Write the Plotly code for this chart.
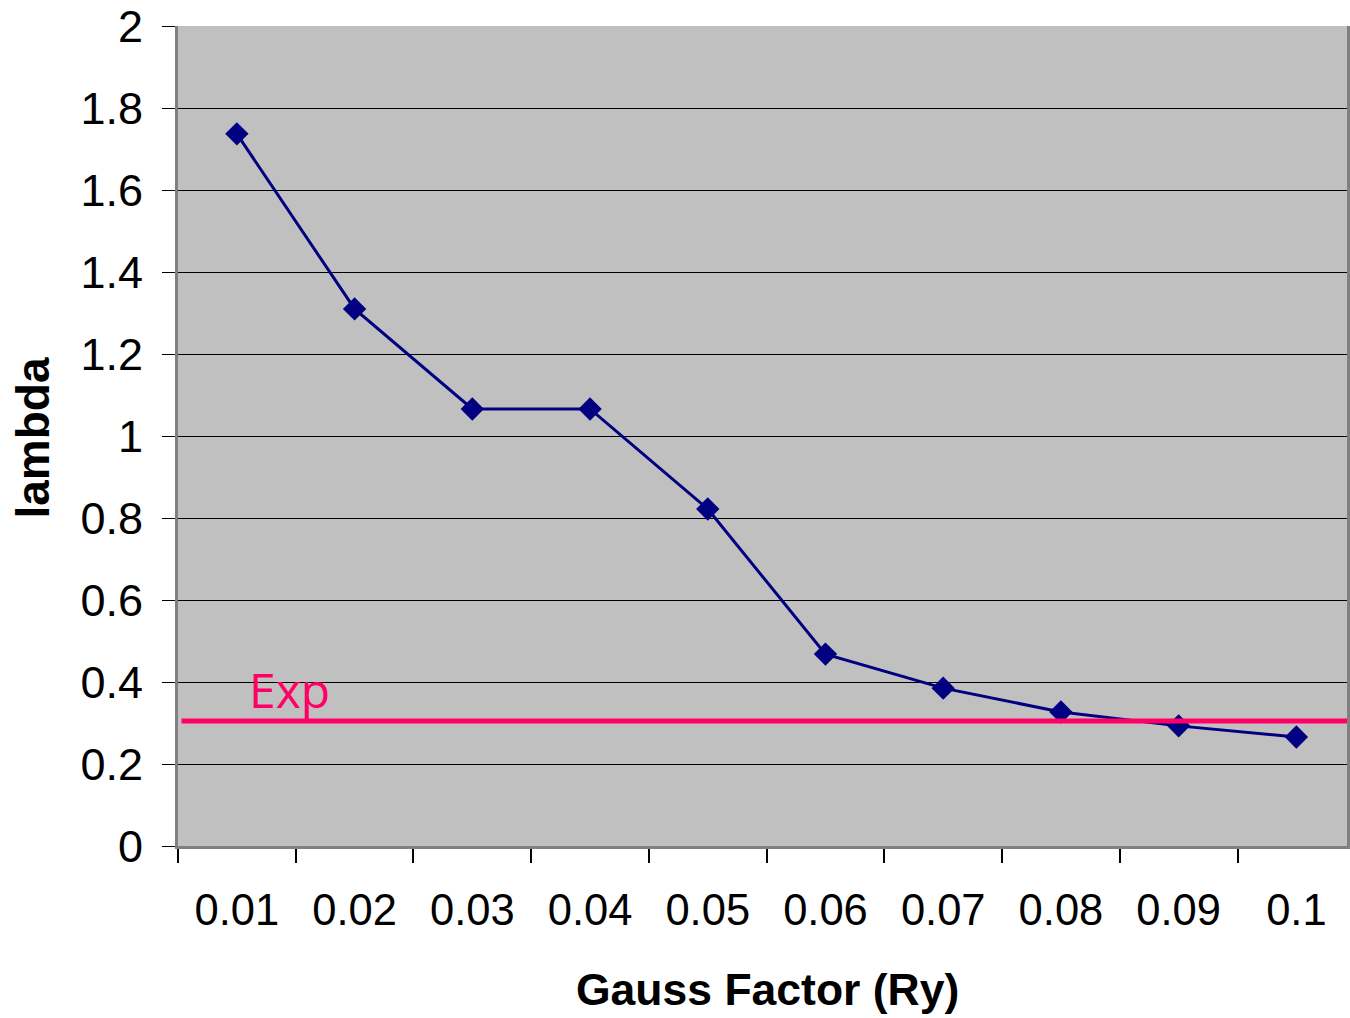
import plotly.graph_objects as go

categories = ["0.01", "0.02", "0.03", "0.04", "0.05", "0.06", "0.07", "0.08", "0.09", "0.1"]
lambda_values = [1.737, 1.310, 1.066, 1.066, 0.822, 0.468, 0.385, 0.327, 0.293, 0.266]
exp_value = 0.305
y_ticks = [0, 0.2, 0.4, 0.6, 0.8, 1, 1.2, 1.4, 1.6, 1.8, 2]
y_tick_labels = ["0", "0.2", "0.4", "0.6", "0.8", "1", "1.2", "1.4", "1.6", "1.8", "2"]

fig = go.Figure()
fig.add_trace(go.Scatter(
    x=categories, y=lambda_values, mode="lines+markers",
    line=dict(color="#000080", width=3),
    marker=dict(symbol="diamond", size=18, color="#000080"),
    showlegend=False, cliponaxis=False,
))

fig.add_shape(type="line", xref="paper", yref="y", x0=0.003, x1=1, y0=exp_value, y1=exp_value,
              line=dict(color="#FF0066", width=5), layer="above")

fig.add_annotation(text="Exp", xref="paper", yref="y", x=0.059, y=exp_value, xanchor="left",
                   yanchor="bottom", yshift=-3, showarrow=False,
                   font=dict(family="Open Sans", size=48, color="#FF0066"))

fig.add_annotation(text="<b>Gauss Factor (Ry)</b>", xref="paper", yref="paper", x=0.5045, y=-0.175,
                   xanchor="center", yanchor="middle", showarrow=False,
                   font=dict(family="Liberation Sans, Arial", size=44.5, color="black"))
fig.add_annotation(text="<b>lambda</b>", xref="paper", yref="paper", x=-0.124, y=0.497,
                   xanchor="center", yanchor="middle", textangle=-90, showarrow=False,
                   font=dict(family="Liberation Sans, Arial", size=46, color="black"))

fig.update_xaxes(
    type="category", range=[-0.5, 9.43], tickson="boundaries", ticks="outside", ticklen=14,
    tickcolor="black", tickwidth=2, showgrid=False, showline=True, linecolor="#808080", linewidth=3,
    tickfont=dict(family="Liberation Sans, Arial", size=43.5, color="black"), ticklabelstandoff=24,
    zeroline=False,
)
fig.update_yaxes(
    range=[0, 2], tickvals=y_ticks, ticktext=y_tick_labels, ticks="outside", ticklen=13,
    tickcolor="black", tickwidth=1, showgrid=True, gridcolor="black", gridwidth=1,
    showline=True, linecolor="#808080", linewidth=3, mirror=True,
    tickfont=dict(family="Liberation Sans, Arial", size=45, color="black"), ticklabelstandoff=10,
    zeroline=False,
)
fig.update_layout(
    width=1350, height=1018, margin=dict(l=178, r=0, t=26, b=172),
    paper_bgcolor="white", plot_bgcolor="#C0C0C0",
)
fig.write_html("out.html")
